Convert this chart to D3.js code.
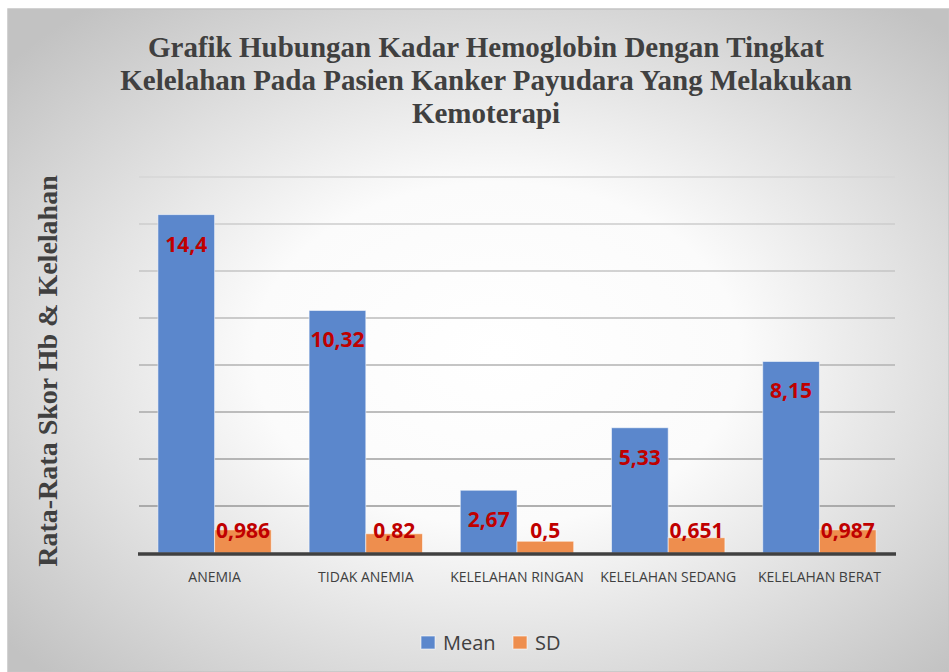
<!DOCTYPE html>
<html>
<head>
<meta charset="utf-8">
<script src="https://cdn.jsdelivr.net/npm/d3@7"></script>
<style>
  body { margin: 0; background: #fff; }
</style>
</head>
<body>
<div id="chart"></div>
<script>
// data
const categories = ['ANEMIA', 'TIDAK ANEMIA', 'KELELAHAN RINGAN', 'KELELAHAN SEDANG', 'KELELAHAN BERAT'];
const series = ['Mean', 'SD'];
const meanValues = [14.4, 10.32, 2.67, 5.33, 8.15];
const sdValues = [0.986, 0.82, 0.5, 0.651, 0.987];
const meanLabels = ['14,4', '10,32', '2,67', '5,33', '8,15'];
const sdLabels = ['0,986', '0,82', '0,5', '0,651', '0,987'];
const yTicks = [0, 2, 4, 6, 8, 10, 12, 14, 16];
const titleLines = ['Grafik Hubungan Kadar Hemoglobin Dengan Tingkat',
    'Kelelahan Pada Pasien Kanker Payudara Yang Melakukan', 'Kemoterapi'];

const W = 949, H = 672;
const svg = d3.select('#chart')
    .append('svg')
    .attr('width', W)
    .attr('height', H);

// radial background like the Excel chart area
const defs = svg.append('defs');
const grad = defs.append('radialGradient')
    .attr('id', 'bg')
    .attr('cx', '52%').attr('cy', '52%').attr('r', '68%');
grad.append('stop').attr('offset', '0%').attr('stop-color', '#ffffff');
grad.append('stop').attr('offset', '38%').attr('stop-color', '#fbfbfb');
grad.append('stop').attr('offset', '100%').attr('stop-color', '#c2c2c2');

svg.append('rect')
    .attr('x', 8).attr('y', 9)
    .attr('width', W - 8).attr('height', H - 9)
    .attr('fill', 'url(#bg)')
    .attr('stroke', '#c4c4c4')
    .attr('stroke-width', 1.5);

// plot area
const plot = {left: 139, right: 895, top: 177, bottom: 553};

const x0 = d3.scaleBand()
    .domain(categories)
    .range([plot.left, plot.right])
    .paddingInner(0.25)
    .paddingOuter(0.125);
const x1 = d3.scaleBand()
    .domain(series)
    .range([0, x0.bandwidth()]);
const y = d3.scaleLinear()
    .domain([0, 16])
    .range([plot.bottom, plot.top]);
const color = d3.scaleOrdinal().domain(series).range(['#5b87cc', '#ee8e4e']);
const gridColor = d3.scaleLinear().domain([16, 0]).range(['#d6d6d6', '#8e8e8e']);

// gridlines
svg.append('g')
    .selectAll('line')
    .data(yTicks.filter(d => d > 0))
    .enter()
    .append('line')
    .attr('x1', plot.left)
    .attr('x2', plot.right)
    .attr('y1', d => y(d))
    .attr('y2', d => y(d))
    .attr('stroke', d => gridColor(d))
    .attr('stroke-width', 1.5);

// rows for grouped bars
const rows = categories.map((c, i) => ({
    category: c,
    values: [
        {key: 'Mean', value: meanValues[i], label: meanLabels[i]},
        {key: 'SD', value: sdValues[i], label: sdLabels[i]}
    ]
}));

const groups = svg.append('g')
    .selectAll('g')
    .data(rows)
    .enter()
    .append('g')
    .attr('transform', d => `translate(${x0(d.category)}, 0)`);

groups.selectAll('rect')
    .data(d => d.values)
    .enter()
    .append('rect')
    .attr('x', d => x1(d.key))
    .attr('y', d => y(d.value))
    .attr('width', x1.bandwidth())
    .attr('height', d => y(0) - y(d.value))
    .attr('fill', d => color(d.key))
    .attr('stroke', '#ffffff')
    .attr('stroke-opacity', 0.55)
    .attr('stroke-width', 1);

// data labels
groups.selectAll('text')
    .data(d => d.values)
    .enter()
    .append('text')
    .attr('x', d => x1(d.key) + x1.bandwidth() / 2)
    .attr('y', d => d.key === 'Mean' ? y(d.value) + 37 : y(0) - 15)
    .attr('text-anchor', 'middle')
    .attr('font-family', '"Open Sans", sans-serif')
    .attr('font-weight', 'bold')
    .attr('font-size', '21px')
    .attr('fill', '#c00000')
    .text(d => d.label);

// baseline
svg.append('line')
    .attr('x1', plot.left - 1)
    .attr('x2', plot.right + 1)
    .attr('y1', y(0) + 1)
    .attr('y2', y(0) + 1)
    .attr('stroke', '#404040')
    .attr('stroke-width', 3.5);

// category axis
const xAxis = d3.axisBottom(x0).tickSize(0).tickPadding(0);
const xAxisGroup = svg.append('g')
    .attr('transform', `translate(0, ${y(0) + 19})`)
    .call(xAxis);
xAxisGroup.select('.domain').remove();
xAxisGroup.selectAll('text')
    .attr('font-family', '"Open Sans", sans-serif')
    .attr('font-size', '14px')
    .attr('fill', '#404040');

// title
svg.append('g')
    .selectAll('text')
    .data(titleLines)
    .enter()
    .append('text')
    .attr('x', 486)
    .attr('y', (d, i) => 57 + i * 33)
    .attr('text-anchor', 'middle')
    .attr('font-family', '"Liberation Serif", serif')
    .attr('font-weight', 'bold')
    .attr('font-size', '29px')
    .attr('fill', '#404040')
    .text(d => d);

// y axis title
svg.append('text')
    .attr('transform', 'translate(57, 371) rotate(-90)')
    .attr('text-anchor', 'middle')
    .attr('font-family', '"Liberation Serif", serif')
    .attr('font-weight', 'bold')
    .attr('font-size', '28px')
    .attr('fill', '#404040')
    .text('Rata-Rata Skor Hb & Kelelahan');

// legend
const legend = svg.append('g')
    .selectAll('g')
    .data(series)
    .enter()
    .append('g')
    .attr('transform', (d, i) => `translate(${[421, 513][i]}, 636)`);
legend.append('rect')
    .attr('width', 14)
    .attr('height', 13)
    .attr('fill', d => color(d))
    .attr('stroke', '#ffffff')
    .attr('stroke-opacity', 0.6);
legend.append('text')
    .attr('x', 22)
    .attr('y', 14)
    .attr('font-family', '"Open Sans", sans-serif')
    .attr('font-size', '20px')
    .attr('fill', '#404040')
    .text(d => d);
</script>
</body>
</html>
